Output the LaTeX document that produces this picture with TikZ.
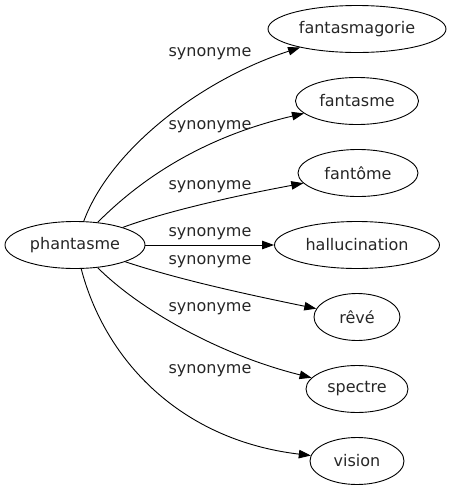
\documentclass[tikz,border=0pt]{standalone}
\usepackage{xcolor}
\usepackage{fontspec}
\usepackage{tikz}
\usetikzlibrary{calc}
\usetikzlibrary{shapes.geometric}
\usetikzlibrary{arrows.meta}
\newfontfamily\motfont{DejaVu Sans}
\begin{document}
\begin{tikzpicture}[x=1pt,y=-1pt,
    mot/.style={ellipse, draw, line width=0.9pt, inner sep=0pt, minimum height=47pt,
                font=\motfont\fontsize{16}{19}\selectfont, text=black!85},
    syn/.style={line width=0.9pt, -{Triangle[length=12pt,width=8.5pt]}},
    synlabel/.style={inner sep=0pt, font=\motfont\fontsize{16}{19}\selectfont, text=black!85}]
                            \useasboundingbox (0,0) rectangle (450,491);%

                            % Drawing nodes
                            \node [mot, minimum width=140pt] (ph) at (75,245) {phantasme};%
                            \node [mot, minimum width=178pt] (fm) at (357,29) {fantasmagorie};%
                            \node [mot, minimum width=123pt] (fa) at (357,101) {fantasme};%
                            \node [mot, minimum width=120pt] (fo) at (358,173) {fantôme};%
                            \node [mot, minimum width=165pt] (ha) at (357,245) {hallucination};%
                            \node [mot, minimum width=86pt] (re) at (357,317) {rêvé};%
                            \node [mot, minimum width=102pt] (sp) at (357,389) {spectre};%
                            \node [mot, minimum width=94pt] (vi) at (357,461) {vision};%

                            % Drawing edges
                            \draw [syn] (ph) .. controls (110,150) and (200,80) .. (fm);%
                            \draw [syn] (ph) .. controls (130,190) and (190,140) .. (fa);%
                            \draw [syn] (ph) .. controls (170,210) and (240,195) .. (fo);%
                            \draw [syn] (ph) -- (ha);%
                            \draw [syn] (ph) .. controls (180,280) and (250,295) .. (re);%
                            \draw [syn] (ph) .. controls (140,310) and (220,355) .. (sp);%
                            \draw [syn] (ph) .. controls (105,360) and (180,440) .. (vi);%

                            % Drawing labels
                            \node [synlabel] (l1) at (210,54) {synonyme};%
                            \node [synlabel] (l2) at (210,127) {synonyme};%
                            \node [synlabel] (l3) at (210,187) {synonyme};%
                            \node [synlabel] (l4) at (210,234) {synonyme};%
                            \node [synlabel] (l5) at (210,262) {synonyme};%
                            \node [synlabel] (l6) at (210,309) {synonyme};%
                            \node [synlabel] (l7) at (210,371) {synonyme};%
\end{tikzpicture}
\end{document}
